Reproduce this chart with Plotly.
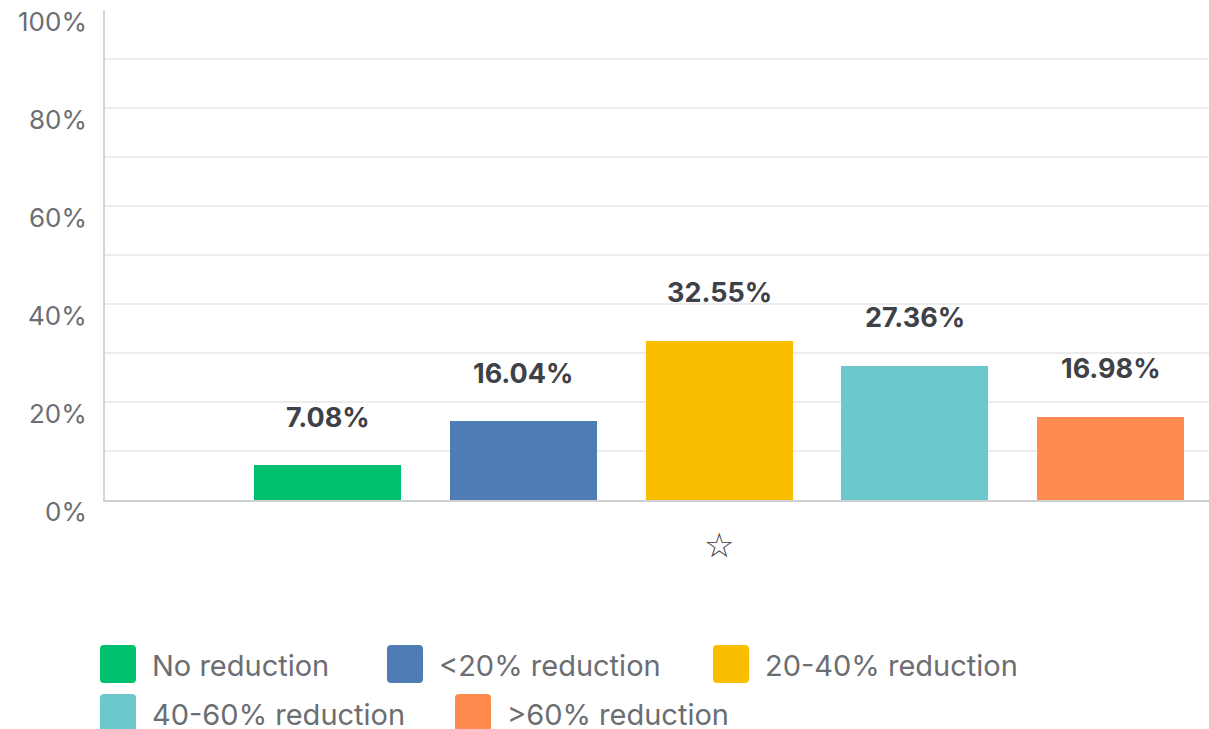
import plotly.graph_objects as go

categories = ["No reduction", "<20% reduction", "20-40% reduction", "40-60% reduction", ">60% reduction"]
values = [7.08, 16.04, 32.55, 27.36, 16.98]
colors = ["#00BF6F", "#507CB6", "#F9BE00", "#6BC8CD", "#FF8B4F"]
y_ticks = [0, 20, 40, 60, 80, 100]
y_tick_labels = ["0%", "20%", "40%", "60%", "80%", "100%"]

positions = list(range(len(categories)))
FONT = "Inter, Open Sans, sans-serif"

fig = go.Figure()
fig.add_trace(go.Bar(
    x=positions, y=values, width=0.751,
    marker=dict(color=colors, line=dict(width=0)),
    showlegend=False, hoverinfo="skip",
))

# value labels above bars
for p, v in zip(positions, values):
    fig.add_annotation(x=p, y=v, xref="x", yref="y", text=f"<b>{v:.2f}%</b>",
                       showarrow=False, yshift=48,
                       font=dict(family=FONT, size=27, color="#3e4147"))

# y tick labels (drawn slightly below their gridlines, as in the reference)
for t, lab in zip(y_ticks, y_tick_labels):
    fig.add_annotation(x=0, y=t, xref="paper", yref="y", text=lab, showarrow=False,
                       xanchor="right", yanchor="middle", xshift=-16, yshift=-11,
                       font=dict(family=FONT, size=26, color="#6b6e72"))

# star under the highlighted category
fig.add_annotation(x=2, y=0, xref="x", yref="y", text="☆", showarrow=False, yshift=-45,
                   font=dict(family="DejaVu Sans", size=34, color="#3e4147"))

# legend built from categories/colors
legend_layout = [(0, 100, 645), (1, 387, 645), (2, 713, 645), (3, 100, 694), (4, 455, 694)]
W, H = 1209, 729
PW, PH, L, B = W - 105, 490, 105, 500
def px(x):
    return (x - L) / PW
def py(y):
    return (B - y) / PH
for idx, lx, ly in legend_layout:
    x0, x1, y0, y1, r = lx, lx + 36, ly, ly + 38, 4
    path = (f"M {px(x0 + r)} {py(y0)} L {px(x1 - r)} {py(y0)} Q {px(x1)} {py(y0)} {px(x1)} {py(y0 + r)} "
            f"L {px(x1)} {py(y1 - r)} Q {px(x1)} {py(y1)} {px(x1 - r)} {py(y1)} "
            f"L {px(x0 + r)} {py(y1)} Q {px(x0)} {py(y1)} {px(x0)} {py(y1 - r)} "
            f"L {px(x0)} {py(y0 + r)} Q {px(x0)} {py(y0)} {px(x0 + r)} {py(y0)} Z")
    fig.add_shape(type="path", xref="paper", yref="paper", path=path,
                  fillcolor=colors[idx], line=dict(width=0))
    fig.add_annotation(xref="paper", yref="paper",
                       x=px(lx + 50), y=py(ly + 20),
                       text=categories[idx], showarrow=False, xanchor="left", yanchor="middle",
                       font=dict(family=FONT, size=29, color="#6b6e72"))

fig.update_layout(
    width=W, height=H,
    margin=dict(l=105, r=0, t=10, b=229),
    plot_bgcolor="white", paper_bgcolor="white",
    bargap=0,
    xaxis=dict(range=[-1.1367, 4.503], showticklabels=False, showgrid=False, zeroline=False,
               showline=True, linecolor="#cfd0d2", linewidth=2, ticks=""),
    yaxis=dict(range=[0, 100], tickvals=y_ticks, showticklabels=False,
               showgrid=True, gridcolor="#ececec", gridwidth=2, zeroline=False,
               showline=True, linecolor="#d4d5d7", linewidth=2, ticks="",
               minor=dict(dtick=10, showgrid=True, gridcolor="#ececec", gridwidth=2)),
)

fig.write_html("out.html", config={"displayModeBar": False},
               post_script="document.body.style.margin='0';document.body.style.overflow='hidden';")
